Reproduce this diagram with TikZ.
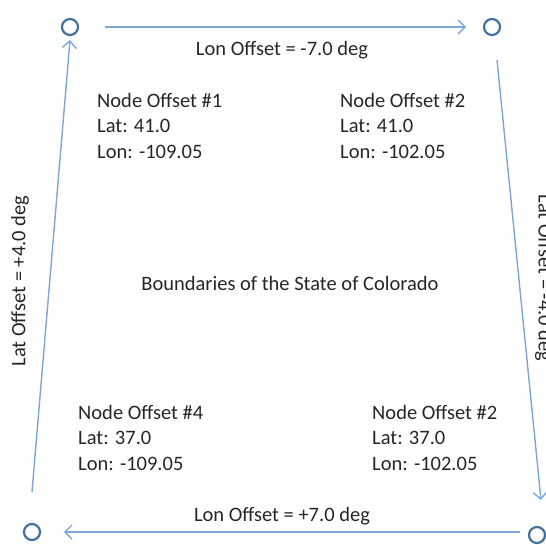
\documentclass[tikz,border=0pt]{standalone}
\usepackage{fontspec}
\setmainfont{Carlito}
\usetikzlibrary{arrows.meta}
\begin{document}
\begin{tikzpicture}[x=1pt,y=-1pt,
  vtx/.style={circle,draw=vtxblue,line width=2.2pt,minimum size=16pt,inner sep=0pt},
  conn/.style={draw=lnblue,line width=1.4pt,-{Straight Barb[length=7pt,width=14pt]}},
  lbl/.style={font=\fontsize{20.5}{24}\selectfont,text=black!85},
  info/.style={lbl,align=left,anchor=north west,inner sep=0pt,font=\fontsize{20.5}{25.5}\selectfont}]
\definecolor{vtxblue}{HTML}{41719C}
\definecolor{lnblue}{HTML}{7BA7D9}
\useasboundingbox (0,0) rectangle (546,544);
\node[vtx] (tl) at (70,27) {};
\node[vtx] (tr) at (492,27) {};
\node[vtx] (bl) at (32,532) {};
\node[vtx] (br) at (537,535) {};
\coordinate (a1) at (105,27); \coordinate (a2) at (466,27);
\coordinate (b1) at (497,60); \coordinate (b2) at (541,500);
\coordinate (c1) at (520,532); \coordinate (c2) at (64,532);
\coordinate (d1) at (32,492); \coordinate (d2) at (70,40);
\draw[conn] (a1) -- (a2);
\draw[conn] (b1) -- (b2);
\draw[conn] (c1) -- (c2);
\draw[conn] (d1) -- (d2);
\node[lbl] (ltop) at (282,50) {Lon Offset = -7.0 deg};
\node[lbl] (lbot) at (282,516) {Lon Offset = +7.0 deg};
\node[lbl,rotate=90] (lleft) at (20,281) {Lat Offset = +4.0 deg};
\node[lbl,rotate=-90] (lright) at (544,278) {Lat Offset = -4.0 deg};
\node[lbl] (title) at (290,283) {Boundaries of the State of Colorado};
\node[info] (n1) at (97,93) {Node Offset \#1\\Lat: 41.0\\Lon: -109.05};
\node[info] (n2) at (340,93) {Node Offset \#2\\Lat: 41.0\\Lon: -102.05};
\node[info] (n4) at (78,405) {Node Offset \#4\\Lat: 37.0\\Lon: -109.05};
\node[info] (n3) at (372,405) {Node Offset \#2\\Lat: 37.0\\Lon: -102.05};
\end{tikzpicture}
\end{document}
